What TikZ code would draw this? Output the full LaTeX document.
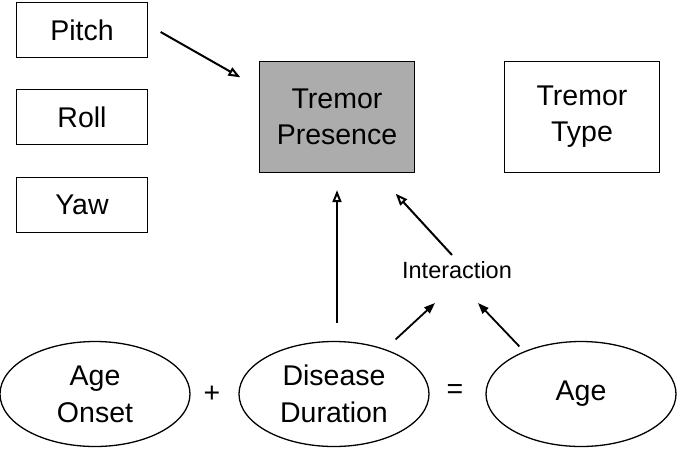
\documentclass[tikz,border=0pt]{standalone}
\usepackage{fontspec}
\setmainfont{Liberation Sans}
\usetikzlibrary{positioning,arrows.meta,shapes.geometric}

\begin{document}
\begin{tikzpicture}[x=1pt,y=-1pt,
box/.style={
  draw,
  line width=1.3pt,
  minimum width=131pt,
  minimum height=55pt,
  align=center,
  font=\fontsize{28.5}{36}\selectfont
  },
bigbox/.style={box,minimum width=155pt,minimum height=111pt
  },
var/.style={
  draw,
  ellipse,
  line width=1.3pt,
  minimum width=190pt,
  minimum height=105pt,
  align=center,
  font=\fontsize{28.5}{37}\selectfont
  },
sign/.style={font=\fontsize{28.5}{36}\selectfont},
hollow/.style={-{Triangle[open,length=12pt,width=9pt]},line width=2pt},
solid/.style={-{Triangle[length=11pt,width=8pt]},line width=1.8pt}
]
\useasboundingbox (0,0) rectangle (677,450);

% predictors
\node[box] (pitch) at (82,30) {Pitch};
\node[box] (roll) at (82,117) {Roll};
\node[box] (yaw) at (82,205) {Yaw};

% outcomes
\node[bigbox,fill=gray!65] (presence) at (337,117) {Tremor\\Presence};
\node[bigbox] (type) at (582,117) {Tremor\\Type};

% age terms
\node[var] (onset) at (95,394) {Age\\Onset};
\node[sign] (plus) at (212,394) {+};
\node[var] (dur) at (334,394) {Disease\\Duration};
\node[sign] (eq) at (455,392) {=};
\node[var] (age) at (581,394) {Age};
\node[font=\fontsize{23.5}{28}\selectfont,inner sep=0] (inter) at (457,270) {Interaction};

\draw[hollow] ([shift={(12.5pt,-2pt)}]pitch.east) -- ([shift={(-18.5pt,-16.5pt)}]presence.north west);
\draw[hollow,shorten <=18pt,shorten >=17pt] (presence.south |- dur.north) -- (presence.south);
\draw[hollow] ([shift={(-5pt,15pt)}]inter.center) -- ([shift={(-19.5pt,-20.5pt)}]presence.south east);
\draw[solid] ([shift={(-6pt,17pt)}]dur.north east) -- ([shift={(-22pt,-33pt)}]inter.center);
\draw[solid] ([shift={(6pt,10pt)}]age.north west) -- ([shift={(21pt,-33pt)}]inter.center);

\end{tikzpicture}
\end{document}
